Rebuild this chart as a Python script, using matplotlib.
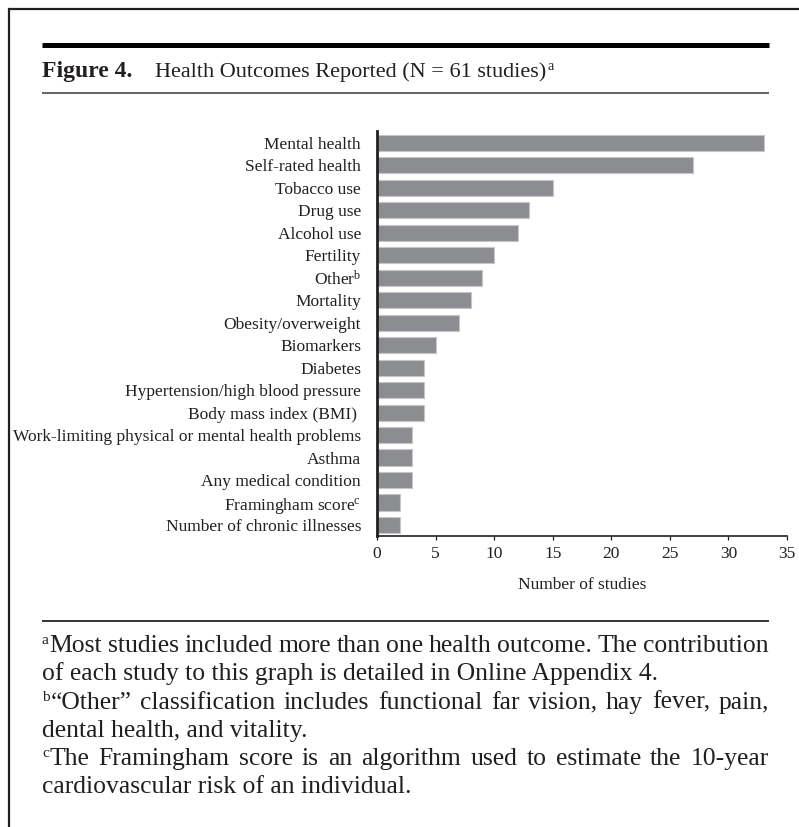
import matplotlib
matplotlib.use('Agg')
import matplotlib.pyplot as plt
import matplotlib.transforms as mtransforms
from matplotlib.lines import Line2D

# Datos
outcomes = [
    'Mental health', 'Self-rated health', 'Tobacco use', 'Drug use',
    'Alcohol use', 'Fertility', r'Other$^{\mathrm{b}}$', 'Mortality',
    'Obesity/overweight', 'Biomarkers', 'Diabetes',
    'Hypertension/high blood pressure', 'Body mass index (BMI) ',
    'Work-limiting physical or mental health problems', 'Asthma',
    'Any medical condition', r'Framingham score$^{\mathrm{c}}$',
    'Number of chronic illnesses',
]
n_studies = [33, 27, 15, 13, 12, 10, 9, 8, 7, 5, 4, 4, 4, 3, 3, 3, 2, 2]
x_ticks = [0, 5, 10, 15, 20, 25, 30, 35]

title_bold = 'Figure 4.'
title_text = 'Health Outcomes Reported (N = 61 studies)'
notes = [
    ('a', 'Most studies included more than one health outcome. The contribution', True),
    ('', 'of each study to this graph is detailed in Online Appendix 4.', False),
    ('b', '\u201cOther\u201d classification includes functional far vision, hay fever, pain,', True),
    ('', 'dental health, and vitality.', False),
    ('c', 'The Framingham score is an algorithm used to estimate the 10-year', True),
    ('', 'cardiovascular risk of an individual.', False),
]

W, H = 799, 827
plt.rcParams['font.family'] = ['Liberation Serif', 'DejaVu Serif']
plt.rcParams['mathtext.fontset'] = 'custom'
plt.rcParams['mathtext.rm'] = 'Liberation Serif'
plt.rcParams['mathtext.it'] = 'Liberation Serif:italic'
plt.rcParams['mathtext.bf'] = 'Liberation Serif:bold'

fig = plt.figure(figsize=(W / 100, H / 100), dpi=100)
px = mtransforms.IdentityTransform()
renderer = fig.canvas.get_renderer()
ink = '#231f20'


def fy(y):
    return H - y


def hline(x0, x1, y, lw, color=ink):
    fig.add_artist(Line2D([x0, x1], [fy(y), fy(y)], transform=px,
                          color=color, lw=lw, solid_capstyle='butt'))


# marco y reglas
fig.add_artist(Line2D([9, 9], [fy(9), 0], transform=px, color=ink, lw=1.6))
hline(9, W, 9, 1.6)
hline(42, 769, 45, 3.6, 'black')
hline(42, 769, 93, 1.1, '#3a3a3a')
hline(42, 769, 621, 1.1, 'black')

# título
fig.text(42, fy(77), title_bold, transform=px, fontsize=17,
         fontweight='bold', va='baseline', color=ink)
tt = fig.text(155, fy(77), title_text, transform=px, fontsize=16,
              va='baseline', color=ink)
tw = tt.get_window_extent(renderer).width
fig.text(155 + tw + 1, fy(70), 'a', transform=px, fontsize=10,
         va='baseline', color=ink)

# gráfico de barras
ax = fig.add_axes([377 / W, 1 - 536 / H, 410 / W, 405 / H])
ypos = list(range(len(outcomes)))
ax.barh(ypos, n_studies, height=0.72, color='#8c8d91',
        edgecolor='#c6c6c8', linewidth=0.8)
ax.set_xlim(0, 35)
ax.set_ylim(len(outcomes) - 1 + 0.49, -0.53)
ax.set_yticks(ypos)
ax.set_yticklabels(outcomes)
ax.set_xticks(x_ticks)
ax.tick_params(axis='y', length=0, pad=11.5, labelsize=12.5, labelcolor=ink)
ax.tick_params(axis='x', length=3, width=0.9, pad=4, labelsize=12.5,
               labelcolor=ink, color=ink)
for s in ['top', 'right']:
    ax.spines[s].set_visible(False)
ax.spines['left'].set_linewidth(2.0)
ax.spines['left'].set_color(ink)
ax.spines['bottom'].set_linewidth(1.2)
ax.spines['bottom'].set_color(ink)
ax.set_xlabel('Number of studies', fontsize=12.5, labelpad=11, color=ink)

# notas al pie
probe = fig.text(0, 0, notes[1][1], fontsize=10)
w10 = probe.get_window_extent(renderer).width
probe.remove()
fs = 10 * 618 / w10
sup_fs = fs * 0.6

y = 652
for sup, line, justify in notes:
    x0 = 42
    if sup:
        st = fig.text(x0, fy(y) + fs * 0.42, sup, transform=px,
                      fontsize=sup_fs, va='baseline', color=ink)
        x0 += st.get_window_extent(renderer).width + 0.5
    if justify:
        words = line.split(' ')
        arts = [fig.text(0, fy(y), w, transform=px, fontsize=fs,
                         va='baseline', color=ink) for w in words]
        widths = [a.get_window_extent(renderer).width for a in arts]
        gap = (769 - x0 - sum(widths)) / (len(words) - 1)
        x = x0
        for a, w in zip(arts, widths):
            a.set_x(x)
            x += w + gap
    else:
        fig.text(x0, fy(y), line, transform=px, fontsize=fs,
                 va='baseline', color=ink)
    y += 28.3

fig.savefig('out.png', dpi=100)
